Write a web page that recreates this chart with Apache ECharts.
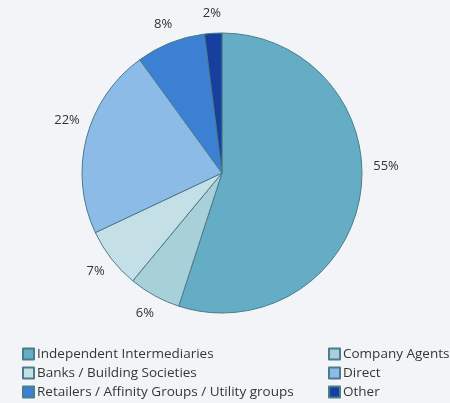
<!DOCTYPE html>
<html>
<head>
<meta charset="utf-8">
<script src="https://cdn.jsdelivr.net/npm/echarts@6/dist/echarts.min.js"></script>
<style>
  html, body { margin: 0; padding: 0; background: #f2f4f7; }
  #chart { width: 450px; height: 403px; }
</style>
</head>
<body>
<div id="chart"></div>
<script>
// Distribution channel shares (%)
const categories = [
  'Independent Intermediaries',
  'Company Agents',
  'Banks / Building Societies',
  'Direct',
  'Retailers / Affinity Groups / Utility groups',
  'Other'
];
const shares = [55, 6, 7, 22, 8, 2];
const colors = ['#64adc4', '#a7d0d8', '#c4dfe6', '#8cbbe8', '#3b80d2', '#173f9e'];

// Legend columns: left and right
const legendLeft = [categories[0], categories[2], categories[4]];
const legendRight = [categories[1], categories[3], categories[5]];

// Hand-placed label nudges for the two labels set apart from their slices
const labelNudge = { 0: [6, -32], 3: [0, -13] };

const chart = echarts.init(document.getElementById('chart'));
const fontFamily = '"Open Sans", "Noto Sans", sans-serif';
const legendBase = {
  orient: 'vertical',
  top: 342,
  height: 60,
  itemWidth: 11,
  itemHeight: 11,
  itemGap: 5,
  icon: 'rect',
  textStyle: { fontFamily: fontFamily, fontSize: 13.5, color: '#363636', padding: [0, 0, 0, -2] }
};

chart.setOption({
  backgroundColor: '#f2f4f7',
  animation: false,
  legend: [
    Object.assign({}, legendBase, { left: 17, data: legendLeft }),
    Object.assign({}, legendBase, { left: 323, data: legendRight })
  ],
  series: [{
    type: 'pie',
    center: [222, 173],
    radius: [0, 140],
    startAngle: 90,
    clockwise: true,
    avoidLabelOverlap: false,
    itemStyle: { borderColor: '#4b7c8c', borderWidth: 1 },
    label: {
      show: true,
      position: 'outside',
      formatter: '{c}%',
      fontFamily: fontFamily,
      fontSize: 13,
      color: '#333333',
      distanceToLabelLine: 0
    },
    labelLine: { show: false, length: 20, length2: 0 },
    emphasis: { disabled: true },
    labelLayout: function (params) {
      // centre each label on its anchor point
      const w = params.labelRect.width;
      let dx = params.align === 'left' ? -w / 2 : (params.align === 'right' ? w / 2 : 0);
      let dy = 0;
      const n = labelNudge[params.dataIndex];
      if (n) { dx += n[0]; dy += n[1]; }
      return { dx: dx, dy: dy };
    },
    data: categories.map((name, i) => ({
      name: name,
      value: shares[i],
      itemStyle: { color: colors[i] }
    }))
  }]
});
</script>
</body>
</html>
